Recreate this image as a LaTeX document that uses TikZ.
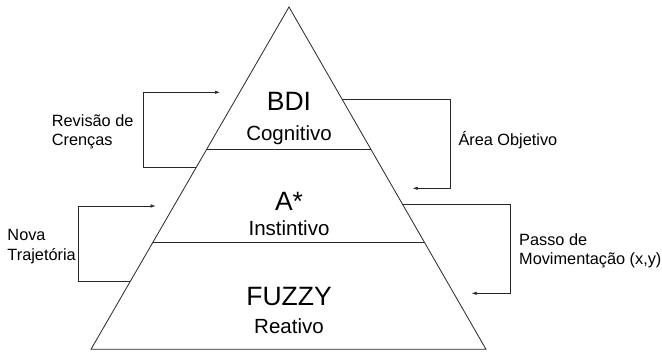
\documentclass[tikz,border=0pt]{standalone}
\usepackage{fontspec}
\setmainfont{Liberation Sans}
\usetikzlibrary{arrows.meta}
\begin{document}
\begin{tikzpicture}[x=1pt,y=-1pt,
  edge/.style={draw=black!85,line width=0.8pt},
  flow/.style={draw=black!85,line width=0.7pt,-{Latex[length=5pt,width=3.5pt]}},
  big/.style={anchor=base,inner sep=0pt,font=\fontsize{26.5}{30}\selectfont},
  sub/.style={anchor=base,inner sep=0pt,font=\fontsize{20.5}{24}\selectfont},
  lbl/.style={anchor=base west,inner sep=0pt,font=\fontsize{16.3}{19}\selectfont}]
\useasboundingbox (0,0) rectangle (662,352);
% pyramid
\coordinate (apex) at (289,7);
\coordinate (bl) at (91,349.3);
\coordinate (br) at (486,349.3);
\draw[edge,line join=miter] (apex) -- (bl) -- (br) -- cycle;
\coordinate (d1l) at (207,149);
\coordinate (d1r) at (371,149);
\coordinate (d2l) at (152.5,242.7);
\coordinate (d2r) at (425,242.7);
\draw[edge] (d1l) -- (d1r);
\draw[edge] (d2l) -- (d2r);
% layer texts
\node[big] (bdi) at (289,110.7) {BDI};
\node[sub] (cog) at (289,140.7) {Cognitivo};
\node[big] (astar) at (289,210.7) {A*};
\node[sub] (inst) at (289,236) {Instintivo};
\node[big] (fuzzy) at (289,306) {FUZZY};
\node[sub] (reat) at (289,333.3) {Reativo};
% side labels
\node[lbl] (rev1) at (51.7,126.7) {Revisão de};
\node[lbl] (rev2) at (51.7,145.7) {Crenças};
\node[lbl] (nova1) at (7.3,241) {Nova};
\node[lbl] (nova2) at (7.3,260.3) {Trajetória};
\node[lbl] (area) at (458.3,145.7) {Área Objetivo};
\node[lbl] (passo1) at (519,245.7) {Passo de};
\node[lbl] (passo2) at (519,264.3) {Movimentação (x,y)};
% connector end points
\coordinate (revS) at (196,167.7);
\coordinate (revE) at (220,92.3);
\coordinate (novS) at (130.2,281.3);
\coordinate (novE) at (155.7,206);
\coordinate (areS) at (342,99);
\coordinate (areE) at (412.7,188.3);
\coordinate (pasS) at (402.5,204);
\coordinate (pasE) at (471.7,293.3);
% connectors
\draw[flow] (revS) -- (143.3,167.7) |- (revE);
\draw[flow] (novS) -- (78.7,281.3) |- (novE);
\draw[flow] (areS) -- (450.7,99) |- (areE);
\draw[flow] (pasS) -- (510.3,204) |- (pasE);
\end{tikzpicture}
\end{document}
